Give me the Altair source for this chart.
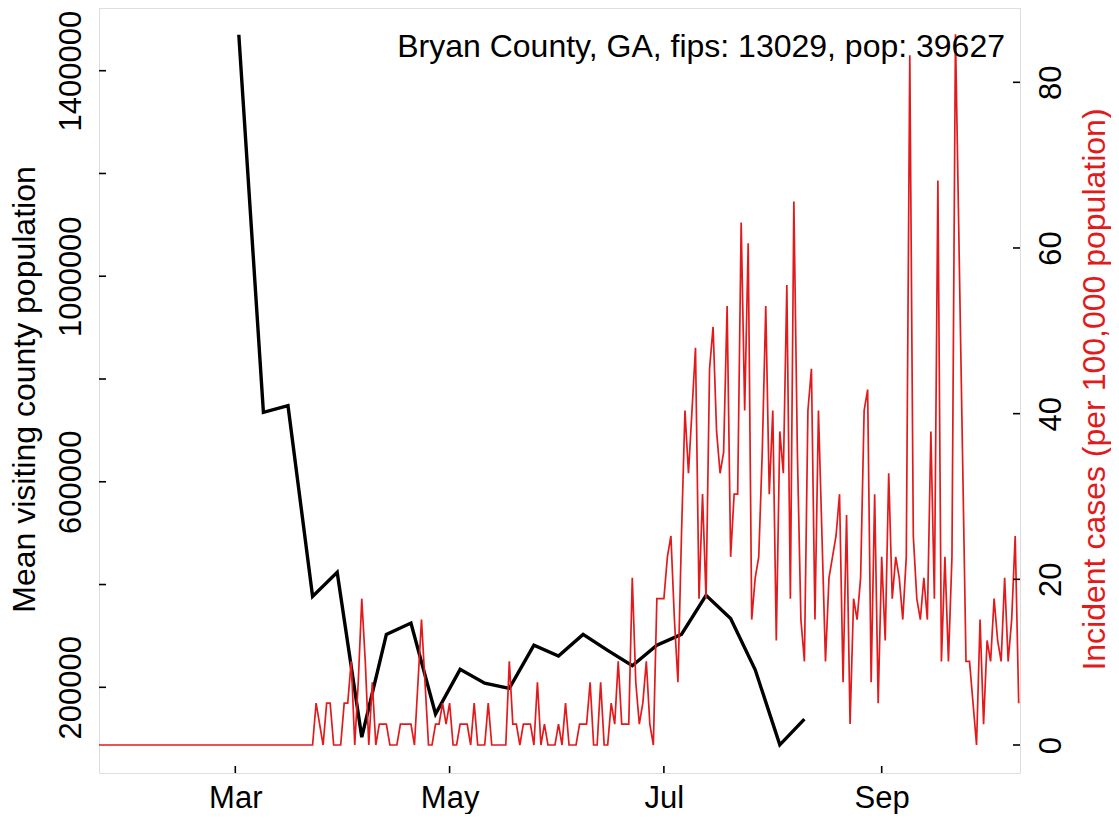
import altair as alt
import pandas as pd

FONT = "Liberation Sans"
RED = "#E31A1C"

# Weekly mean visiting county population (black line)
week_dates = [
    "2020-03-02", "2020-03-09", "2020-03-16", "2020-03-23", "2020-03-30",
    "2020-04-06", "2020-04-13", "2020-04-20", "2020-04-27", "2020-05-04",
    "2020-05-11", "2020-05-18", "2020-05-25", "2020-06-01", "2020-06-08",
    "2020-06-15", "2020-06-22", "2020-06-29", "2020-07-06", "2020-07-13",
    "2020-07-20", "2020-07-27", "2020-08-03", "2020-08-10",
]
visiting_pop = [
    1470000, 735000, 748000, 377000, 424000,
    103000, 303000, 325000, 148000, 235000,
    208000, 198000, 282000, 261000, 303000,
    272000, 242000, 282000, 303000, 379000,
    334000, 234000, 88000, 138000,
]

# Daily new cases from 2020-01-22 (red line, shown per 100,000 population)
case_start = "2020-01-22"
county_pop = 39627
daily_cases = [0] * 62 + [
    2, 1, 0, 2, 2, 0, 0, 0, 2, 2,
    4, 0, 3, 7, 4, 0, 3, 0, 1, 1,
    1, 0, 0, 0, 1, 1, 1, 1, 0, 3,
    6, 3, 0, 0, 1, 1, 2, 1, 2, 0,
    0, 1, 1, 1, 0, 2, 0, 0, 0, 2,
    0, 0, 0, 0, 0, 4, 1, 1, 0, 1,
    1, 1, 0, 3, 0, 1, 0, 0, 0, 1,
    0, 2, 0, 0, 0, 1, 1, 1, 3, 0,
    0, 3, 0, 0, 2, 1, 4, 1, 1, 1,
    8, 3, 1, 2, 4, 1, 0, 7, 7, 7,
    9, 10, 6, 3, 10, 16, 13, 16, 19, 7,
    12, 7, 18, 20, 15, 13, 14, 21, 9, 12,
    12, 25, 16, 24, 6, 8, 9, 14, 21, 12,
    16, 5, 15, 13, 22, 7, 26, 14, 6, 4,
    16, 18, 6, 16, 10, 4, 8, 9, 10, 12,
    3, 11, 1, 7, 6, 8, 16, 17, 3, 12,
    2, 9, 5, 13, 7, 9, 8, 6, 9, 33,
    10, 7, 6, 8, 6, 15, 7, 27, 4, 9,
    4, 9, 34, 24, 14, 4, 4, 2, 0, 6,
    1, 5, 4, 7, 5, 4, 8, 4, 6, 10,
    2,
]

title_text = "Bryan County, GA, fips: 13029, pop: 39627"
left_ticks = [200000, 400000, 600000, 800000, 1000000, 1200000, 1400000]
right_ticks = [0, 20, 40, 60, 80]
month_tick_dates = ["2020-03-01", "2020-05-01", "2020-07-01", "2020-09-01"]

W, H = 921, 765
TICK = 7

black_df = pd.DataFrame({"date": week_dates, "value": visiting_pop})
red_dates = pd.date_range(case_start, periods=len(daily_cases), freq="D").strftime("%Y-%m-%d")
red_df = pd.DataFrame({
    "date": list(red_dates),
    "value": [c * 100000 / county_pop for c in daily_cases],
})
left_tick_df = pd.DataFrame({"value": left_ticks})
right_tick_df = pd.DataFrame({"value": right_ticks})
month_df = pd.DataFrame({"date": month_tick_dates})
title_df = pd.DataFrame({"label": [title_text]})

x_domain = [
    alt.DateTime(year=2020, month=1, date=22, hours=4, minutes=48, utc=True),
    alt.DateTime(year=2020, month=10, date=10, hours=8, minutes=53, utc=True),
]
x_values = [alt.DateTime(year=2020, month=m, date=1, utc=True) for m in (3, 5, 7, 9)]

x_axis = alt.Axis(
    values=x_values, labelExpr="utcFormat(datum.value, '%b')", title=None,
    domain=False, grid=False, ticks=False, tickSize=0, labelPadding=10,
    labelFontSize=31, labelFont=FONT, labelColor="black",
    labelAngle=0, labelAlign="center", labelBaseline="top",
    labelFlush=False, labelOverlap=False,
)
x_enc = alt.X("date:T", scale=alt.Scale(type="utc", domain=x_domain, nice=False), axis=x_axis)

y_left = alt.Y(
    "value:Q",
    scale=alt.Scale(domain=[33214, 1522032], nice=False, zero=False),
    axis=alt.Axis(
        orient="left", values=left_ticks, format="d",
        labelExpr="datum.value % 400000 == 200000 ? datum.label : ''",
        title="Mean visiting county population", titleFontSize=32, titleFont=FONT,
        titleFontWeight="normal", titleColor="black", titleAngle=270,
        titleAlign="center", titleBaseline="alphabetic", titleX=-65, titleY=381,
        domain=False, grid=False, ticks=False, tickSize=0, labelPadding=19,
        labelFontSize=31, labelFont=FONT, labelColor="black",
        labelAngle=270, labelAlign="center", labelBaseline="alphabetic",
        labelFlush=False, labelOverlap=False,
    ),
)

y_right = alt.Y(
    "value:Q",
    scale=alt.Scale(domain=[-3.38, 88.97], nice=False, zero=False),
    axis=alt.Axis(
        orient="right", values=right_ticks, format="d",
        title="Incident cases (per 100,000 population)", titleFontSize=32, titleFont=FONT,
        titleFontWeight="normal", titleColor=RED, titleAngle=270,
        titleAlign="center", titleBaseline="alphabetic", titleX=84, titleY=381,
        domain=False, grid=False, ticks=False, tickSize=0, labelPadding=16,
        labelFontSize=31, labelFont=FONT, labelColor="black",
        labelAngle=270, labelAlign="center", labelBaseline="top",
        labelFlush=False, labelOverlap=False,
    ),
)

black = alt.Chart(black_df).mark_line(color="black", strokeWidth=3.4, clip=True).encode(
    x=x_enc, y=y_left
)
left_tick_marks = alt.Chart(left_tick_df).mark_rule(color="black", strokeWidth=1.6).encode(
    y=y_left, x=alt.value(0), x2=alt.value(TICK)
)
month_tick_marks = alt.Chart(month_df).mark_rule(color="black", strokeWidth=1.6).encode(
    x=x_enc, y=alt.value(H - TICK), y2=alt.value(H)
)

red = alt.Chart(red_df).mark_line(color=RED, strokeWidth=1.7, clip=True).encode(
    x=x_enc, y=y_right
)
right_tick_marks = alt.Chart(right_tick_df).mark_rule(color="black", strokeWidth=1.6).encode(
    y=y_right, x=alt.value(W - TICK), x2=alt.value(W)
)
title_mark = alt.Chart(title_df).mark_text(
    align="right", baseline="alphabetic", fontSize=32, font=FONT, color="black"
).encode(text="label:N", x=alt.value(906), y=alt.value(48.7))

left_group = alt.layer(black, left_tick_marks, month_tick_marks)
right_group = alt.layer(red, right_tick_marks, title_mark)

chart = alt.layer(left_group, right_group).resolve_scale(y="independent").properties(
    width=W,
    height=H,
    autosize=alt.AutoSizeParams(type="none"),
    padding={"left": 91, "top": 0, "right": 91, "bottom": 41},
).configure_view(stroke="black", strokeWidth=1.6).configure(background="white")

chart.save("out.html", embed_options={"renderer": "svg", "actions": False})
